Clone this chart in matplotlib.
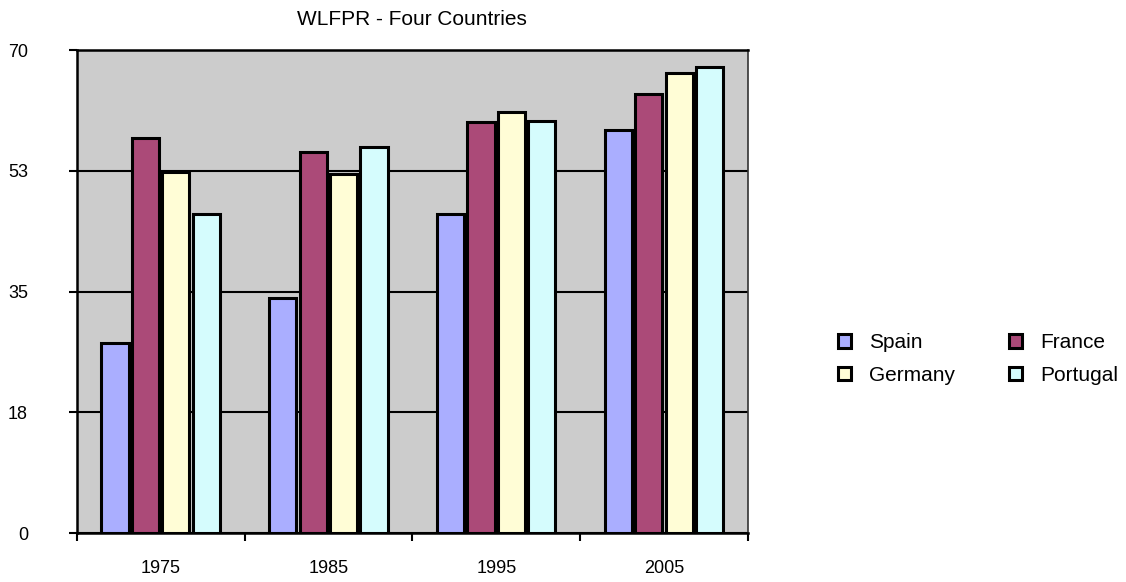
import matplotlib
matplotlib.use("Agg")
import matplotlib.pyplot as plt
import numpy as np
from matplotlib.patches import Patch

# values
years = ["1975", "1985", "1995", "2005"]
countries = ["Spain", "France", "Germany", "Portugal"]
spain = [27.5, 34.1, 46.3, 58.4]
france = [57.2, 55.2, 59.6, 63.6]
germany = [52.4, 52.1, 61.0, 66.6]
portugal = [46.3, 56.0, 59.7, 67.5]
ytick_vals = [0, 17.5, 35, 52.5, 70]
ytick_labels = ["0", "18", "35", "53", "70"]

colors = ["#AAAEFF", "#AB4A78", "#FFFDD6", "#D5FCFD"]
series = [spain, france, germany, portugal]

plt.rcParams["font.family"] = ["Liberation Sans", "DejaVu Sans"]

fig = plt.figure(figsize=(11.26, 5.82), dpi=100)
ax = fig.add_axes([76.7 / 1126, 1 - 533.3 / 582, (748 - 76.7) / 1126, (533.3 - 50) / 582])
ax.set_facecolor("#CCCCCC")

x = np.arange(len(years))
step = 0.181
width = 0.162
for j, (vals, col) in enumerate(zip(series, colors)):
    ax.bar(x + (j - 1.5) * step, vals, width, color=col, edgecolor="black",
           linewidth=2.2, zorder=3, label=countries[j])

ax.set_xlim(-0.5, 3.5)
ax.set_ylim(0, 70)

ax.set_yticks(ytick_vals)
ax.set_yticklabels(ytick_labels, fontsize=13)
ax.yaxis.grid(True, color="black", linewidth=1.5, zorder=1)
ax.set_axisbelow(True)
ax.tick_params(axis="y", direction="out", length=6, width=1.5, pad=29)

ax.set_xticks(x)
ax.set_xticklabels(years, fontsize=13)
ax.set_xticks(np.arange(-0.5, 4, 1), minor=True)
ax.tick_params(axis="x", which="major", length=0, pad=19)
ax.tick_params(axis="x", which="minor", direction="out", length=6, width=1.5)

for side in ["left", "bottom", "top"]:
    ax.spines[side].set_linewidth(1.8)
ax.spines["right"].set_linewidth(1.2)
ax.spines["right"].set_color("#333333")

fig.text(412.3 / 1126, 1 - 25 / 582, "WLFPR - Four Countries", fontsize=15,
         ha="center", va="baseline")

# legend fills column by column, so reorder to get Spain/France on the first row
order = [0, 2, 1, 3]
handles = [Patch(facecolor=colors[i], edgecolor="black", linewidth=2.2) for i in order]
labels = [countries[i] for i in order]
fig.legend(handles, labels, loc="upper left",
           bbox_to_anchor=(838 / 1126, 1 - 333.5 / 582), ncol=2, frameon=False,
           fontsize=15, borderpad=0, borderaxespad=0, handlelength=0.62,
           handleheight=0.62, handletextpad=0.89, columnspacing=2.57,
           labelspacing=0.64)

fig.savefig("out.png", dpi=100)
